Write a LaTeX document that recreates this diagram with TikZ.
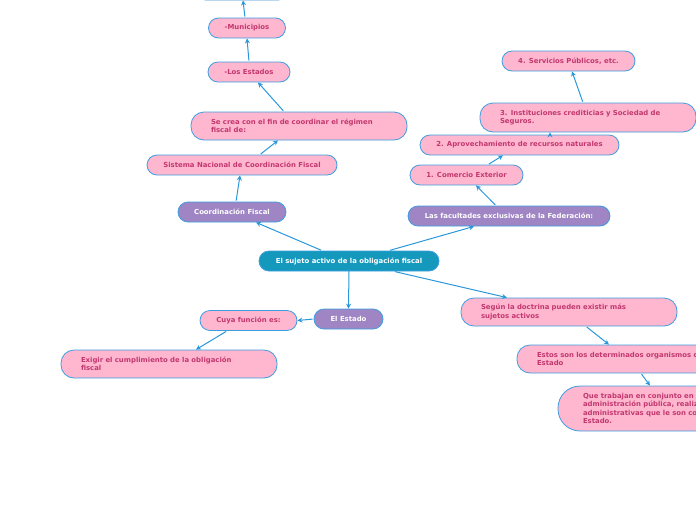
\documentclass[tikz,border=0pt]{standalone}
\usepackage{fontspec}
\setmainfont{DejaVu Sans}
\usetikzlibrary{arrows.meta}

\definecolor{rosafondo}{HTML}{FFB6CF}
\definecolor{bordeazul}{HTML}{3C9EE0}
\definecolor{textorosa}{HTML}{C2386E}
\definecolor{lilafondo}{HTML}{9F85C3}
\definecolor{turquesa}{HTML}{1499BD}
\definecolor{flechaazul}{HTML}{2B97DB}

\tikzset{
  caja/.style={draw=bordeazul, line width=0.8pt, rounded corners=10pt,
    font=\fontsize{6.9}{8.5}\selectfont\bfseries, minimum height=20pt, inner sep=0pt},
  pinkbox/.style={caja, fill=rosafondo, text=textorosa},
  purplebox/.style={caja, fill=lilafondo, text=white},
  mainbox/.style={caja, fill=turquesa, text=white},
  largebox/.style={pinkbox, rounded corners=13pt, minimum height=28pt,
    align=left, inner xsep=20pt, text width=176pt},
  enlace/.style={draw=flechaazul, line width=1pt, shorten <=1pt,
    -{Stealth[length=5pt,width=5pt]}}
}

\begin{document}
\begin{tikzpicture}[x=1pt, y=-1pt]
  \useasboundingbox (0,0) rectangle (696,520);
  \clip (0,0) rectangle (696,520);

  % Nodo central
  \node[mainbox, minimum width=180pt] (central) at (349,261) {El sujeto activo de la obligación fiscal};

  % Rama izquierda: coordinación fiscal
  \node[purplebox, minimum width=108pt] (coord) at (232,212) {Coordinación Fiscal};
  \node[pinkbox, minimum width=190pt] (sistema) at (242,165) {Sistema Nacional de Coordinación Fiscal};
  \node[largebox] (secrea) at (299,126) {Se crea con el fin de coordinar el régimen\\fiscal de:};
  \node[pinkbox, minimum width=82pt] (estados) at (249,72) {-Los Estados};
  \node[pinkbox, minimum width=77pt] (municipios) at (247,28) {-Municipios};
  \node[pinkbox, minimum width=92pt] (arriba) at (242,-10) {};

  % Rama derecha: facultades
  \node[purplebox, minimum width=202pt] (facultades) at (509,216) {Las facultades exclusivas de la Federación:};
  \node[pinkbox, minimum width=113pt] (comercio) at (466.5,175) {1. Comercio Exterior};
  \node[pinkbox, minimum width=199pt] (aprov) at (519.5,145) {2. Aprovechamiento de recursos naturales};
  \node[largebox, minimum height=29pt] (instit) at (588,117.5) {3. Instituciones crediticias y Sociedad de\\Seguros.};
  \node[pinkbox, minimum width=133pt] (servicios) at (568.5,61) {4. Servicios Públicos, etc.};

  % Rama inferior: el Estado
  \node[purplebox, minimum width=69pt] (estado) at (348.5,319) {El Estado};
  \node[pinkbox, minimum width=97pt] (cuya) at (248.5,320.5) {Cuya función es:};
  \node[largebox] (exigir) at (169,364) {Exigir el cumplimiento de la obligación\\fiscal};

  % Rama inferior derecha: doctrina
  \node[largebox] (segun) at (569,312) {Según la doctrina pueden existir más\\sujetos activos};
  \node[largebox, text width=200pt] (estos) at (637,359) {Estos son los determinados organismos del\\Estado};
  \node[largebox, rounded corners=22pt, minimum height=45pt, inner xsep=25pt, text width=200pt]
    (que) at (683,408.5) {Que trabajan en conjunto en la\\administración pública, realizando funciones\\administrativas que le son conferidas por el\\Estado.};

  % Conectores
  \draw[enlace] ([xshift=-27pt]central.north) -- ([xshift=24pt]coord.south);
  \draw[enlace] ([xshift=4pt]coord.north) -- ([xshift=-2pt]sistema.south);
  \draw[enlace] ([xshift=18pt]sistema.north) -- ([xshift=-21pt]secrea.south);
  \draw[enlace] ([xshift=-15pt]secrea.north) -- ([xshift=9pt]estados.south);
  \draw[enlace] (estados.north) -- (municipios.south);
  \draw[enlace] ([xshift=-2pt]municipios.north) -- ([xshift=1pt]arriba.south);

  \draw[enlace] ([xshift=40pt]central.north) -- ([xshift=-35pt]facultades.south);
  \draw[enlace] ([xshift=-13pt]facultades.north) -- ([xshift=9.5pt]comercio.south);
  \draw[enlace] ([xshift=21.5pt]comercio.north) -- ([xshift=-16.5pt]aprov.south);
  \draw[enlace, shorten <=0pt] ([xshift=30.5pt]aprov.north) -- ([xshift=-38pt]instit.south);
  \draw[enlace] ([xshift=-5pt]instit.north) -- ([xshift=3.5pt]servicios.south);

  \draw[enlace] ([yshift=3pt]central.south) -- (estado.north);
  \draw[enlace] (estado.west) -- (cuya.east);
  \draw[enlace] ([xshift=-21.5pt]cuya.south) -- ([xshift=27pt]exigir.north);

  \draw[enlace] ([xshift=45pt]central.south) -- ([xshift=-62pt]segun.north);
  \draw[enlace] ([xshift=17pt]segun.south) -- ([xshift=-28pt]estos.north);
  \draw[enlace] ([xshift=4pt]estos.south) -- ([xshift=-33pt]que.north);
\end{tikzpicture}
\end{document}
